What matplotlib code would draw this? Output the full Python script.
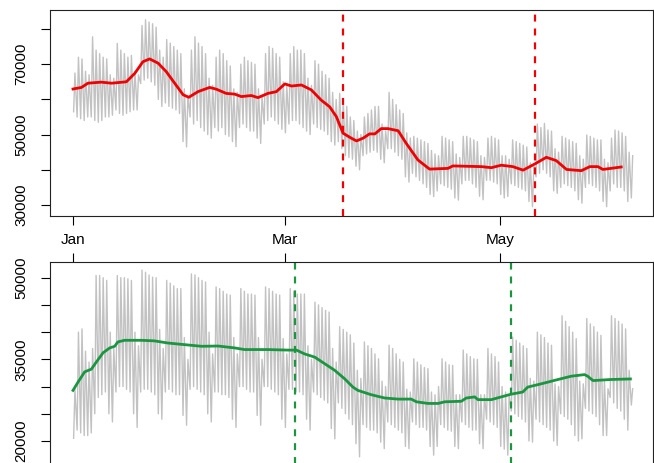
import numpy as np
import pandas as pd
import matplotlib
matplotlib.use("Agg")
import matplotlib.pyplot as plt

plt.rcParams["font.family"] = ["Liberation Sans", "DejaVu Sans"]
plt.rcParams["lines.scale_dashes"] = False

# daily high / low of the load, thousands (Wed 1 Jan 2020 .. Sun 7 Jun 2020)
# first row: Wed-Sun, then one row per week Mon..Sun
top_high = [
    67.5, 72.0, 71.5, 68.0, 67.0,
    77.8, 74.0, 73.0, 72.0, 71.5, 67.0, 66.0,
    75.9, 74.0, 73.0, 72.0, 72.5, 68.0, 67.0,
    81.0, 82.6, 82.0, 81.5, 80.5, 74.0, 72.0,
    77.0, 76.0, 75.0, 74.0, 73.0, 63.0, 61.0,
    74.0, 77.8, 76.0, 75.0, 73.0, 66.0, 64.0,
    72.0, 74.0, 73.0, 71.0, 69.5, 63.0, 62.0,
    70.0, 72.0, 71.0, 70.5, 70.0, 63.0, 61.0,
    73.0, 75.0, 74.5, 73.0, 72.0, 65.0, 64.0,
    73.0, 75.0, 74.0, 74.0, 73.0, 66.0, 64.0,
    71.0, 70.0, 68.0, 67.0, 66.0, 62.0, 60.0,
    61.7, 60.0, 58.0, 55.0, 54.0, 51.0, 50.0,
    55.0, 56.0, 57.0, 58.0, 58.0, 53.0, 51.0,
    62.0, 60.0, 58.5, 57.0, 56.0, 50.5, 49.0,
    49.5, 49.0, 48.5, 48.0, 47.5, 45.5, 44.5,
    44.0, 49.5, 49.0, 48.5, 48.0, 44.5, 43.5,
    49.5, 49.5, 49.0, 48.5, 48.0, 44.0, 43.5,
    49.0, 49.5, 49.0, 48.5, 44.0, 44.0, 43.0,
    48.5, 48.0, 47.5, 47.0, 46.5, 42.0, 41.0,
    53.0, 52.0, 53.2, 51.3, 51.0, 46.0, 45.0,
    49.5, 49.0, 48.5, 48.0, 47.5, 44.0, 43.0,
    49.9, 49.5, 49.0, 48.5, 48.5, 43.0, 42.0,
    49.0, 51.3, 51.0, 50.5, 49.5, 45.0, 44.0,
]
top_low = [
    56.5, 55.0, 54.5, 54.0, 55.0,
    55.0, 54.0, 53.5, 54.0, 55.0, 55.0, 55.5,
    57.0, 56.0, 55.5, 56.0, 56.5, 57.0, 57.0,
    64.5, 65.5, 66.0, 65.0, 64.0, 60.0, 58.0,
    59.0, 58.0, 57.5, 57.0, 56.0, 48.0, 46.5,
    55.0, 53.0, 54.0, 52.0, 51.0, 50.0, 49.0,
    52.0, 51.0, 52.0, 50.0, 49.5, 48.0, 46.6,
    52.0, 53.0, 52.0, 51.0, 51.0, 49.0, 47.5,
    53.0, 54.0, 55.0, 54.0, 53.0, 51.5, 50.5,
    53.0, 54.0, 54.0, 53.0, 52.0, 51.0, 50.0,
    53.0, 52.0, 51.5, 51.0, 50.0, 48.0, 47.0,
    48.0, 46.0, 44.0, 43.5, 43.0, 41.0, 40.0,
    44.0, 44.5, 45.0, 45.5, 45.0, 43.0, 42.0,
    46.0, 46.0, 45.0, 44.0, 43.0, 38.0, 36.5,
    39.0, 38.0, 37.0, 36.0, 35.0, 33.0, 32.4,
    34.0, 36.0, 35.5, 35.0, 34.5, 32.0, 31.4,
    36.0, 37.0, 37.0, 36.0, 35.0, 32.5, 31.5,
    37.0, 37.0, 36.5, 36.0, 33.0, 32.0, 32.4,
    36.0, 35.5, 35.0, 34.5, 34.0, 31.0, 29.5,
    38.0, 39.0, 40.0, 39.0, 38.0, 34.0, 33.3,
    35.0, 36.0, 35.5, 35.0, 34.0, 31.5, 30.5,
    35.0, 36.0, 35.5, 35.0, 34.0, 31.0, 29.5,
    34.0, 36.0, 35.0, 35.0, 34.0, 31.0, 32.0,
]
bot_high = [
    29.5, 40.0, 40.6, 36.5, 34.5,
    37.0, 50.4, 50.4, 50.0, 49.5, 40.0, 37.0,
    50.4, 50.0, 50.0, 49.8, 49.5, 40.0, 37.5,
    51.4, 51.0, 50.5, 50.1, 50.0, 40.5, 37.0,
    49.5, 49.0, 48.5, 48.0, 48.0, 39.0, 35.0,
    50.7, 50.5, 50.0, 49.5, 49.2, 40.0, 36.0,
    48.3, 48.0, 47.5, 47.0, 46.8, 39.0, 36.0,
    48.0, 47.5, 47.0, 47.0, 46.8, 39.0, 35.0,
    48.3, 48.0, 47.5, 47.0, 46.8, 38.8, 36.0,
    48.0, 47.5, 47.0, 47.0, 47.0, 37.5, 35.0,
    45.5, 45.0, 44.5, 44.0, 43.7, 37.0, 34.5,
    41.0, 40.5, 40.0, 39.5, 38.0, 33.0, 31.5,
    38.2, 37.5, 37.0, 36.0, 35.1, 31.0, 30.0,
    37.6, 37.0, 36.0, 35.0, 34.5, 29.5, 29.0,
    35.1, 34.5, 34.0, 33.5, 33.3, 29.0, 28.5,
    30.0, 35.1, 34.5, 34.0, 33.9, 28.5, 28.5,
    36.7, 36.0, 35.5, 35.1, 35.0, 28.5, 28.5,
    37.0, 36.0, 35.5, 34.5, 30.0, 29.0, 28.5,
    39.1, 38.5, 38.0, 37.5, 37.0, 31.5, 31.0,
    40.0, 39.5, 39.0, 38.0, 37.6, 30.5, 30.0,
    43.0, 42.0, 41.0, 40.0, 38.8, 31.0, 30.5,
    42.5, 41.5, 41.0, 40.0, 39.4, 31.0, 29.6,
    43.0, 42.5, 42.0, 41.5, 40.6, 33.0, 29.6,
]
bot_low = [
    20.5, 22.0, 21.5, 21.0, 21.0,
    21.5, 25.0, 28.0, 28.5, 29.0, 25.0, 23.5,
    29.0, 30.0, 30.0, 29.5, 29.0, 25.0, 22.5,
    29.0, 29.5, 29.5, 29.0, 28.5, 25.0, 24.0,
    29.0, 29.5, 29.0, 28.5, 28.5, 24.7, 22.9,
    29.5, 30.0, 29.5, 29.0, 28.5, 25.0, 23.5,
    29.0, 29.0, 28.5, 28.5, 28.0, 24.0, 22.5,
    30.0, 30.0, 29.5, 29.0, 29.0, 24.7, 22.9,
    30.0, 30.0, 29.5, 29.0, 28.5, 24.0, 22.5,
    29.5, 29.5, 29.0, 29.0, 28.5, 24.0, 22.0,
    29.0, 28.5, 28.0, 27.5, 27.0, 22.3, 20.4,
    27.0, 26.0, 25.0, 24.0, 23.0, 19.5, 17.1,
    23.0, 22.5, 22.0, 22.0, 21.5, 19.8, 18.6,
    23.5, 23.0, 22.5, 22.0, 21.5, 19.0, 18.6,
    23.5, 23.0, 22.5, 22.5, 22.0, 19.0, 17.4,
    19.0, 23.0, 22.5, 22.0, 21.8, 19.0, 18.6,
    23.5, 23.0, 22.5, 22.0, 22.0, 19.5, 18.6,
    24.0, 23.5, 23.0, 22.5, 19.0, 18.5, 17.4,
    25.5, 25.0, 24.5, 24.0, 23.5, 20.0, 19.8,
    24.0, 23.5, 23.0, 22.5, 22.0, 20.0, 19.2,
    25.0, 24.5, 24.0, 23.0, 21.0, 20.0, 20.4,
    26.0, 25.5, 25.0, 24.5, 23.0, 21.0, 21.0,
    28.0, 27.0, 26.0, 25.5, 24.0, 22.0, 26.6,
]

# smoothed curves (day since 1 Jan, thousands)
top_smooth_day = [0, 2.4, 4.2, 8, 10.9, 15.1, 17.5, 19.8, 21.7, 24.1, 26.4, 28.8,
                  31.2, 32.8, 35.4, 38.7, 40.6, 43.4, 45.8, 47.7, 50.5, 52.4, 55.2,
                  57.6, 60, 61.9, 64.7, 67.5, 70.3, 72.7, 74.6, 76.5, 78.8, 80.3,
                  82.2, 84, 85.5, 87.3, 89.2, 92.1, 94.4, 97.7, 101, 106.2, 107.6,
                  115.7, 118.5, 121.3, 124.6, 127.5, 130.8, 134.1, 136.9, 139.8,
                  144, 146.4, 148.7, 150.1, 155.3]
top_smooth = [62.95, 63.4, 64.6, 64.9, 64.6, 65.0, 67.4, 70.7, 71.5, 70.3, 67.9, 64.6,
              61.3, 60.6, 62.2, 63.4, 62.9, 61.7, 61.5, 60.8, 61.1, 60.5, 61.7,
              62.2, 64.4, 63.8, 64.1, 62.7, 59.8, 57.9, 55.1, 50.4, 49.0, 48.2,
              49.0, 50.2, 50.2, 51.7, 51.7, 51.1, 47.5, 42.8, 40.2, 40.4, 41.1,
              40.9, 40.6, 41.3, 40.9, 39.9, 41.65, 43.55, 42.6, 40.1,
              39.75, 40.9, 40.9, 40.1, 40.8]
bot_smooth_day = [0, 1.4, 3.3, 5.2, 6.6, 8.5, 10.4, 11.8, 12.7, 14.6, 19.4, 23, 26.9,
                  31.6, 36.4, 41.1, 45.8, 48.6, 55.2, 60.9, 63.3, 65.6, 68.5, 71.3,
                  74.1, 77, 79.3, 80.7, 84.5, 88.3, 92.1, 95.8, 97.3, 100.6, 103.4,
                  105.3, 110, 111.4, 113.8, 114.7, 118.5, 121.3, 124.1, 127.4, 128.8,
                  132.6, 137.4, 141.1, 144.9, 145.8, 147.3, 152.4, 157.9]
bot_smooth = [29.3, 30.8, 32.7, 33.2, 34.5, 36.2, 37.1, 37.4, 38.2, 38.5, 38.5, 38.4, 38.0,
              37.7, 37.4, 37.45, 37.1, 36.8, 36.8, 36.7, 36.7, 36.0, 35.4, 34.2,
              33.0, 31.4, 29.9, 29.3, 28.5, 27.9, 27.7, 27.7, 27.2, 26.9, 26.9,
              27.2, 27.3, 27.9, 28.1, 27.6, 27.6, 28.1, 28.6, 29.0, 29.9,
              30.5, 31.3, 31.9, 32.2, 31.9, 31.1, 31.3, 31.4]

top_events = ["2020-03-17 12:00", "2020-05-11"]
bot_events = ["2020-03-04", "2020-05-04"]
month_ticks = ["2020-01-01", "2020-03-01", "2020-05-01"]
month_labels = ["Jan", "Mar", "May"]

start = pd.Timestamp("2020-01-01")
days = pd.date_range(start, periods=len(top_high), freq="D")


def zigzag(high, low):
    t = np.column_stack([(days + pd.Timedelta(hours=4)).values,
                         (days + pd.Timedelta(hours=13)).values]).ravel()
    v = np.column_stack([low, high]).ravel() * 1000
    return t, v


def smooth(day, val):
    t = (start + pd.to_timedelta(day, unit="D")).values
    return t, np.array(val) * 1000


W, H = 654, 463
fig = plt.figure(figsize=(W / 100, H / 100), dpi=100)
ax1 = fig.add_axes([50 / W, 1 - 216 / H, 603 / W, 206 / H])
ax2 = fig.add_axes([50 / W, 1 - 468 / H, 603 / W, 206 / H])

gray = "#c2c2c2"
red = "#f00000"
green = "#1a9641"

t, v = zigzag(top_high, top_low)
ax1.plot(t, v, color=gray, lw=1.0)
t, v = smooth(top_smooth_day, top_smooth)
ax1.plot(t, v, color=red, lw=2.0, solid_joinstyle="round")
for e in top_events:
    ax1.axvline(pd.Timestamp(e), color=red, lw=1.6, dashes=(5, 5))

t, v = zigzag(bot_high, bot_low)
ax2.plot(t, v, color=gray, lw=1.0)
t, v = smooth(bot_smooth_day, bot_smooth)
ax2.plot(t, v, color=green, lw=2.0, solid_joinstyle="round")
for e in bot_events:
    ax2.axvline(pd.Timestamp(e), color=green, lw=1.6, dashes=(5, 5))

xlim = (start - pd.Timedelta(days=6.52), start + pd.Timedelta(days=164.3))
ticks = [pd.Timestamp(m) for m in month_ticks]

ax1.set_ylim(26873, 85398)
ax1.set_yticks([30000, 40000, 50000, 60000, 70000, 80000])
ax1.set_yticklabels(["30000", "", "50000", "", "70000", ""])
ax2.set_ylim(15042, 52884)
ax2.set_yticks([20000, 25000, 30000, 35000, 40000, 45000, 50000])
ax2.set_yticklabels(["20000", "", "", "35000", "", "", "50000"])

for ax in (ax1, ax2):
    ax.set_xlim(*xlim)
    ax.set_xticks(ticks)
    for s in ax.spines.values():
        s.set_linewidth(0.8)
        s.set_color("#222222")
    ax.tick_params(axis="y", length=6.5, width=0.8, pad=9, labelsize=11,
                   labelrotation=90)
    for lab in ax.get_yticklabels():
        lab.set_va("center")

ax1.set_xticklabels(month_labels)
ax1.tick_params(axis="x", length=6.5, width=0.8, pad=6, labelsize=11)
ax2.xaxis.tick_top()
ax2.set_xticklabels(["", "", ""])
ax2.tick_params(axis="x", length=6.5, width=0.8)

fig.savefig("out.png", dpi=100)
